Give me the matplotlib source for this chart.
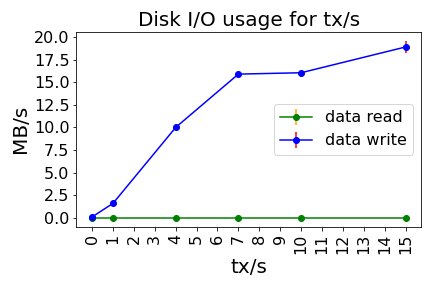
import numpy as np
import matplotlib
matplotlib.use("Agg")
import matplotlib.pyplot as plt

# --- Data ---
tx = [0, 1, 4, 7, 10, 15]
read_mb = [0.0, 0.0, 0.0, 0.0, 0.0, 0.0]
read_err = [0.0, 0.0, 0.0, 0.0, 0.0, 0.0]
write_mb = [0.1, 1.6, 10.0, 15.9, 16.05, 18.9]
write_err = [0.1, 0.1, 0.1, 0.2, 0.2, 0.7]
xticks = list(range(0, 16))
yticks = [0.0, 2.5, 5.0, 7.5, 10.0, 12.5, 15.0, 17.5, 20.0]

fig, ax = plt.subplots(figsize=(6, 4), dpi=72)

ax.errorbar(tx, read_mb, yerr=read_err, color='green', ecolor='orange',
            marker='o', label='data read')
ax.errorbar(tx, write_mb, yerr=write_err, color='blue', ecolor='red',
            marker='o', label='data write')

ax.set_title("Disk I/O usage for tx/s", fontsize=20)
ax.set_xlabel("tx/s", fontsize=20)
ax.set_ylabel("MB/s", fontsize=20)
ax.set_xticks(xticks)
ax.set_yticks(yticks)
ax.tick_params(axis='x', labelsize=16, labelrotation=90)
ax.tick_params(axis='y', labelsize=16)
ax.legend(loc='center right', fontsize=16)

plt.tight_layout()
plt.savefig("out.png")
